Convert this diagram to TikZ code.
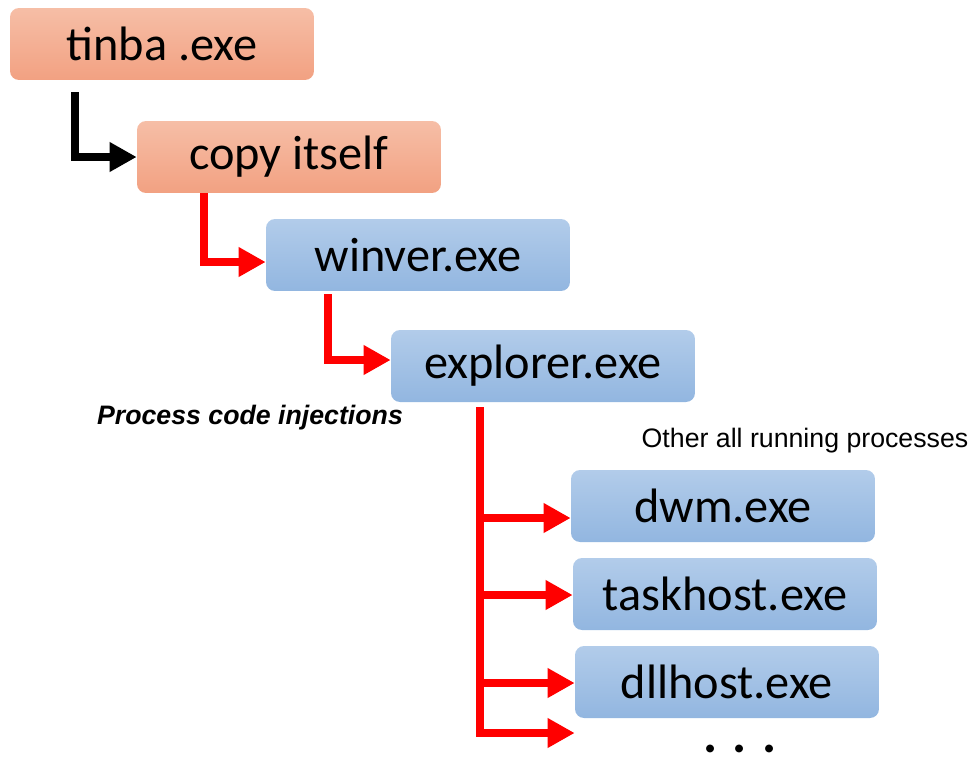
\documentclass[tikz,border=0pt]{standalone}
\usepackage{fontspec}
\setmainfont{Carlito}
\newfontfamily\labelfont{Liberation Sans}
\usetikzlibrary{arrows.meta,calc,positioning}

\definecolor{peachtop}{RGB}{246,190,166}
\definecolor{peachbot}{RGB}{242,161,130}
\definecolor{bluetop}{RGB}{178,204,234}
\definecolor{bluebot}{RGB}{146,182,224}
\definecolor{injred}{RGB}{255,0,0}

\tikzset{
    x=0.02cm, y=-0.02cm,
    >={Triangle[length=0.54cm,width=0.56cm]},
    procbox/.style={rectangle, rounded corners=0.18cm, inner sep=0pt,
        minimum width=6.08cm, minimum height=1.44cm,
        font=\fontsize{27.5}{32}\selectfont},
    parentbox/.style={procbox, top color=peachtop, bottom color=peachbot},
    childbox/.style={procbox, top color=bluetop, bottom color=bluebot},
    spawn/.style={->, line width=0.16cm, black},
    inject/.style={spawn, injred},
    note/.style={font=\labelfont\fontsize{15.2}{18}\selectfont},
}

\begin{document}
\begin{tikzpicture}
    \useasboundingbox (0,0) rectangle (968,765);

    % dropper and its copy
    \node[parentbox] (tinba) at (162,44) {tinba .exe};
    \node[parentbox] (copy) at (289,157) {copy itself};

    % injected processes
    \node[childbox] (winver) at (418,255) {winver.exe};
    \node[childbox] (explorer) at (543,366) {explorer.exe};
    \node[childbox] (dwm) at (723,506) {dwm.exe};
    \node[childbox] (taskhost) at (725,594) {taskhost.exe};
    \node[childbox] (dllhost) at (727,682) {dllhost.exe};
    \node[inner sep=0pt, font=\fontsize{30}{34}\selectfont\bfseries] (dots) at (740,749) {. . .};

    \node[note, font=\labelfont\fontsize{15.2}{18}\selectfont\bfseries\itshape] (injlabel) at (250,418) {Process code injections};
    \node[note] (otherlabel) at (805,441) {Other all running processes};

    \draw[spawn] ($(tinba.south west)+(65,12)$) |- (copy.west);
    \draw[inject] ($(copy.south west)+(67,0)$) |- ($(winver.west)+(0,7)$);
    \draw[inject] ($(winver.south west)+(62,3)$) |- ($(explorer.west)+(0,-6)$);

    % fan out from explorer to the rest
    \coordinate (trunk) at ($(explorer.south west)+(89,5)$);
    \coordinate (more) at ($(dllhost.west)+(0,51)$);
    \draw[inject] (trunk) |- (more);
    \foreach \proc/\dy in {dwm/12,taskhost/1,dllhost/1}{
        \coordinate (\proc-in) at ($(\proc.west)+(0,\dy)$);
        \draw[inject] (trunk |- \proc-in) -- (\proc-in);
    }
\end{tikzpicture}
\end{document}
